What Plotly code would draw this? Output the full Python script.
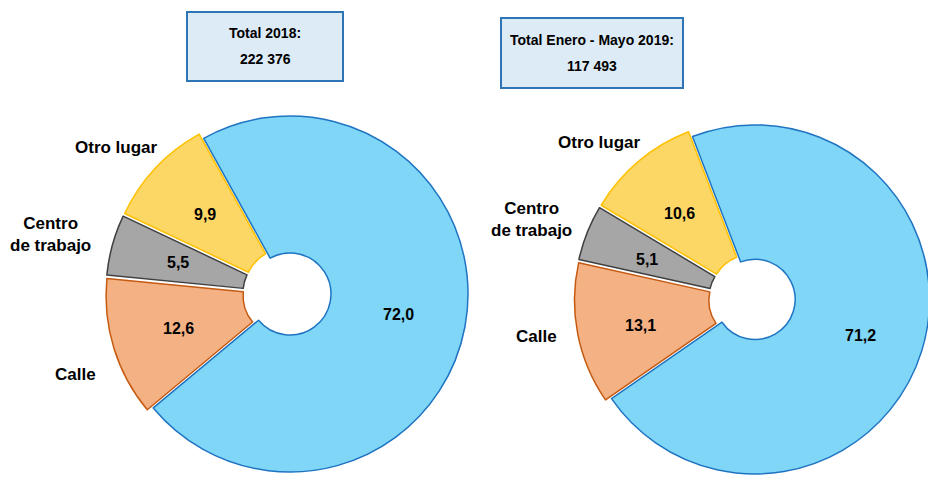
import math
import plotly.graph_objects as go

# Data
categories = ["Casa habitación", "Calle", "Centro de trabajo", "Otro lugar"]
values_2018 = [72.0, 12.6, 5.5, 9.9]
values_2019 = [71.2, 13.1, 5.1, 10.6]
text_2018 = ["72,0", "12,6", "5,5", "9,9"]
text_2019 = ["71,2", "13,1", "5,1", "10,6"]
title_2018 = ["Total 2018:", "222 376"]
title_2019 = ["Total Enero - Mayo 2019:", "117 493"]

FONT = "Liberation Sans Narrow, Arial Narrow, Liberation Sans, Arial, sans-serif"
fills = ["#7FD6F7", "#F4B183", "#A6A6A6", "#FDD766"]
lines = ["#1F74C2", "#C55A11", "#404040", "#FFC000"]
PULL = 0.035
pulls = [0, PULL, PULL, PULL]
HOLE = 0.23

# figure is slightly wider than the 928px window so the right pie is clipped like the original
W, H = 950, 480

def dom(cx, cy, r, maxpull=PULL):
    half = r * (1 + maxpull)
    x0, x1 = (cx - half) / W, (cx + half) / W
    y0, y1 = 1 - (cy + half) / H, 1 - (cy - half) / H
    return dict(x=[max(0, x0), min(1, x1)], y=[max(0, y0), min(1, y1)])

fig = go.Figure()
annotations = []
shapes = []

def add_pie(values, texts, rotation, cx, cy, r):
    fig.add_trace(go.Pie(
        labels=categories, values=values, text=texts,
        textinfo="none", sort=False, direction="clockwise", rotation=rotation,
        hole=HOLE, pull=pulls,
        marker=dict(colors=fills, line=dict(color=lines, width=1.5)),
        domain=dom(cx, cy, r), showlegend=False, hoverinfo="label+text",
    ))
    # value labels at the middle angle of each slice
    total = sum(values)
    start = rotation
    for v, t, p in zip(values, texts, pulls):
        span = v / total * 360
        mid = math.radians(start + span / 2)
        rho = r * (0.62 + p)
        x = cx + rho * math.sin(mid)
        y = cy - rho * math.cos(mid)
        annotations.append(dict(xref="paper", yref="paper", x=x / W, y=1 - y / H,
                                text=t, showarrow=False, xanchor="center", yanchor="middle",
                                font=dict(family=FONT, size=16, color="black", weight="bold")))
        start += span

add_pie(values_2018, text_2018, -29, 290, 294, 178)
add_pie(values_2019, text_2019, -21, 755, 303, 178)

def box(x0, y0, x1, y1, txts, ys):
    shapes.append(dict(type="rect", xref="paper", yref="paper",
                       x0=x0 / W, x1=x1 / W, y0=1 - y1 / H, y1=1 - y0 / H,
                       fillcolor="#DDEBF7", line=dict(color="#2E75B6", width=2)))
    for t, y in zip(txts, ys):
        annotations.append(dict(xref="paper", yref="paper", x=(x0 + x1) / 2 / W,
                                y=1 - y / H, text=t, showarrow=False,
                                xanchor="center", yanchor="middle",
                                font=dict(family=FONT, size=14, color="black", weight="bold")))

box(187, 12, 343, 81, title_2018, [33, 59])
box(501, 18, 683, 88, title_2019, [40, 66])

def lab(x, y, txt):
    annotations.append(dict(xref="paper", yref="paper", x=x / W, y=1 - y / H,
                            text=txt, showarrow=False, xanchor="center", yanchor="middle",
                            font=dict(family=FONT, size=17, color="black", weight="bold")))

lab(116, 147, categories[3])
lab(50, 235, "Centro<br>de trabajo")
lab(75, 374, categories[1])
lab(599, 143, categories[3])
lab(531, 220, "Centro<br>de trabajo")
lab(536, 336, categories[1])

fig.update_layout(
    width=W, height=H, margin=dict(l=0, r=0, t=0, b=0),
    paper_bgcolor="white", plot_bgcolor="white",
    shapes=shapes, annotations=annotations,
    font=dict(family=FONT),
)

fig.write_html("out.html", config={"displayModeBar": False},
               post_script="document.body.style.margin='0';document.body.style.overflow='hidden';")
